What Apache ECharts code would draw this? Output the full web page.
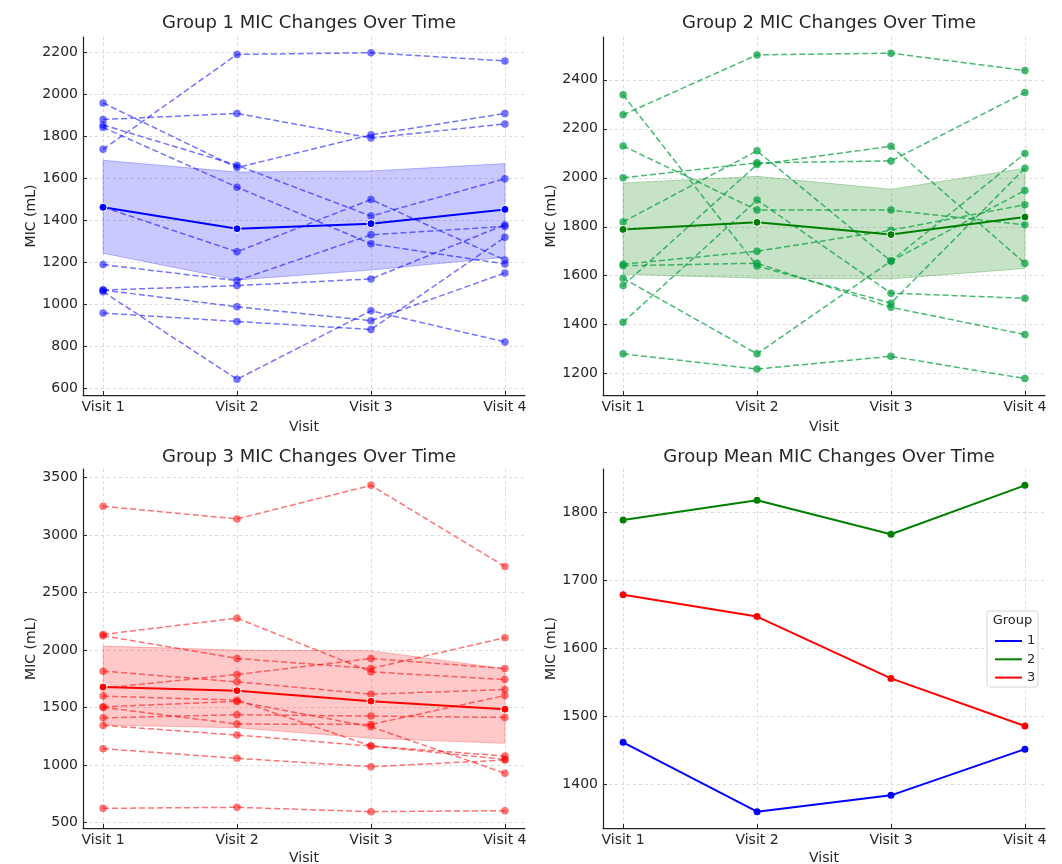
<!DOCTYPE html>
<html><head><meta charset="utf-8">
<script src="https://cdn.jsdelivr.net/npm/echarts@6/dist/echarts.min.js"></script>
<style>html,body{margin:0;padding:0;background:#fff}#c{width:1062px;height:864px}</style>
</head><body><div id="c"></div>
<script>
// ---------- data ----------
const visits = ['Visit 1', 'Visit 2', 'Visit 3', 'Visit 4'];
const visitIdx = [0, 1, 2, 3];

const group1Lines = [
  [1738, 2190, 2198, 2159],
  [1880, 1909, 1792, 1859],
  [1959, 1651, 1807, 1909],
  [1854, 1662, 1420, 1598],
  [1842, 1558, 1288, 1192],
  [1463, 1250, 1499, 1211],
  [1189, 1113, 1331, 1371],
  [1068, 1089, 1121, 1379],
  [1068, 988, 922, 1149],
  [1060, 643, 969, 821],
  [958, 918, 880, 1319]
];
const group1Mean = [1462, 1360, 1384, 1452];
const group1Upper = [1686, 1630, 1635, 1670];
const group1Lower = [1243, 1116, 1163, 1224];

const group2Lines = [
  [2257, 2502, 2509, 2438],
  [2339, 1640, 1488, 2039],
  [2130, 1868, 1868, 1808],
  [2000, 2061, 2069, 2348],
  [1820, 2110, 1660, 1948],
  [1647, 1700, 1786, 1890],
  [1641, 1651, 1471, 1360],
  [1590, 1281, 1660, 2099],
  [1560, 2054, 2129, 1651],
  [1410, 1909, 1529, 1508],
  [1281, 1219, 1271, 1180]
];
const group2Mean = [1789, 1818, 1768, 1840];
const group2Upper = [1979, 2006, 1953, 2039];
const group2Lower = [1606, 1590, 1587, 1630];

const group3Lines = [
  [3251, 3141, 3433, 2727],
  [2136, 2278, 1811, 1744],
  [2124, 1927, 1840, 2108],
  [1817, 1724, 1617, 1657],
  [1670, 1788, 1927, 1840],
  [1600, 1565, 1166, 1079],
  [1507, 1554, 1333, 929],
  [1502, 1357, 1354, 1605],
  [1411, 1438, 1426, 1415],
  [1345, 1261, 1166, 1050],
  [1143, 1059, 986, 1044],
  [624, 633, 595, 604]
];
const group3Mean = [1679, 1647, 1556, 1486];
const group3Upper = [2035, 2000, 1995, 1838];
const group3Lower = [1348, 1325, 1233, 1189];

const yTicks1 = [600, 800, 1000, 1200, 1400, 1600, 1800, 2000, 2200];
const yTicks2 = [1200, 1400, 1600, 1800, 2000, 2200, 2400];
const yTicks3 = [500, 1000, 1500, 2000, 2500, 3000, 3500];
const yTicks4 = [1400, 1500, 1600, 1700, 1800];

const groupNames = ['1', '2', '3'];
const groupColors = ['#0000ff', '#008000', '#ff0000'];
const panelTitles = [
  'Group 1 MIC Changes Over Time',
  'Group 2 MIC Changes Over Time',
  'Group 3 MIC Changes Over Time',
  'Group Mean MIC Changes Over Time'
];

// ---------- style ----------
const FONT = 'DejaVu Sans';
const TXT = '#262626';
const GRIDC = '#d4d4d4';

const panels = [
  { lines: group1Lines, mean: group1Mean, hi: group1Upper, lo: group1Lower, ticks: yTicks1,
    min: 568, max: 2273, col: '#0000ff', ind: 'rgba(0,0,255,0.55)', band: 'rgba(0,0,255,0.21)', edge: 'rgba(0,0,255,0.25)',
    grid: { left: 83, top: 37, width: 442, height: 358 }, titleTop: 9, nameGap: 25 },
  { lines: group2Lines, mean: group2Mean, hi: group2Upper, lo: group2Lower, ticks: yTicks2,
    min: 1113, max: 2575, col: '#008000', ind: 'rgba(0,160,60,0.72)', band: 'rgba(0,128,0,0.22)', edge: 'rgba(0,128,0,0.25)',
    grid: { left: 603, top: 37, width: 442, height: 358 }, titleTop: 9, nameGap: 25 },
  { lines: group3Lines, mean: group3Mean, hi: group3Upper, lo: group3Lower, ticks: yTicks3,
    min: 453, max: 3575, col: '#ff0000', ind: 'rgba(255,0,0,0.55)', band: 'rgba(255,0,0,0.21)', edge: 'rgba(255,0,0,0.25)',
    grid: { left: 83, top: 469, width: 442, height: 359 }, titleTop: 443, nameGap: 23 },
  { ticks: yTicks4, min: 1336, max: 1864, grid: { left: 603, top: 469, width: 442, height: 359 }, titleTop: 443, nameGap: 23 }
];

const grids = [], xAxes = [], yAxes = [], titles = [], series = [];

panels.forEach((p, i) => {
  grids.push(Object.assign({ outerBoundsMode: 'none', containLabel: false }, p.grid));
  xAxes.push({
    type: 'value', gridIndex: i, min: -0.15, max: 3.15,
    axisLine: { show: true, onZero: false, lineStyle: { color: TXT, width: 1.25 } },
    axisTick: { show: true, inside: true, length: 4, customValues: visitIdx, lineStyle: { color: TXT, width: 1 } },
    axisLabel: { customValues: visitIdx, formatter: v => visits[Math.round(v)], color: TXT, fontSize: 14, fontFamily: FONT, margin: 5 },
    splitLine: { show: true, lineStyle: { type: [3, 3], color: GRIDC, width: 0.8 } },
    name: 'Visit', nameLocation: 'middle', nameGap: p.nameGap,
    nameTextStyle: { color: TXT, fontSize: 14, fontFamily: FONT }
  });
  yAxes.push({
    type: 'value', gridIndex: i, min: p.min, max: p.max,
    axisLine: { show: true, onZero: false, lineStyle: { color: TXT, width: 1.25 } },
    axisTick: { show: true, inside: true, length: 4, customValues: p.ticks, lineStyle: { color: TXT, width: 1 } },
    axisLabel: { customValues: p.ticks, formatter: v => String(v), color: TXT, fontSize: 14, fontFamily: FONT, margin: 5 },
    splitLine: { show: true, lineStyle: { type: [3, 3], color: GRIDC, width: 0.8 } },
    name: 'MIC (mL)', nameLocation: 'middle', nameGap: 44, nameRotate: 90,
    nameTextStyle: { color: TXT, fontSize: 14, fontFamily: FONT }
  });
  titles.push({
    text: panelTitles[i], left: p.grid.left + p.grid.width / 2, top: p.titleTop, textAlign: 'center',
    textStyle: { color: TXT, fontSize: 18, fontWeight: 'normal', fontFamily: FONT }
  });

  if (i < 3) {
    const hi = p.hi, lo = p.lo, band = p.band, edge = p.edge;
    series.push({
      type: 'custom', xAxisIndex: i, yAxisIndex: i, silent: true, z: 1, clip: false,
      data: [[0, lo[0]]],
      renderItem: (params, api) => {
        const pts = hi.map((v, j) => api.coord([visitIdx[j], v]))
          .concat(lo.map((v, j) => api.coord([visitIdx[j], v])).reverse());
        return { type: 'polygon', shape: { points: pts }, style: { fill: band, stroke: edge, lineWidth: 1 } };
      }
    });
    p.lines.forEach(l => {
      series.push({
        type: 'line', xAxisIndex: i, yAxisIndex: i, z: 2, silent: true,
        data: l.map((v, j) => [visitIdx[j], v]),
        symbol: 'circle', symbolSize: 7.5, showSymbol: true,
        lineStyle: { type: [6, 3], width: 1.5, color: p.ind },
        itemStyle: { color: p.ind, borderWidth: 0 }
      });
    });
    series.push({
      type: 'line', xAxisIndex: i, yAxisIndex: i, z: 4, silent: true,
      data: p.mean.map((v, j) => [visitIdx[j], v]),
      symbol: 'circle', symbolSize: 8, showSymbol: true,
      lineStyle: { width: 2, color: p.col },
      itemStyle: { color: p.col, borderColor: '#fff', borderWidth: 1 }
    });
  }
});

// Group mean panel
[group1Mean, group2Mean, group3Mean].forEach((m, k) => {
  series.push({
    type: 'line', name: groupNames[k], xAxisIndex: 3, yAxisIndex: 3, z: 3, silent: true,
    data: m.map((v, j) => [visitIdx[j], v]),
    symbol: 'circle', symbolSize: 7, showSymbol: true,
    lineStyle: { width: 2, color: groupColors[k] },
    itemStyle: { color: groupColors[k], borderWidth: 0 }
  });
});

const option = {
  animation: false,
  backgroundColor: '#fff',
  textStyle: { fontFamily: FONT },
  title: titles,
  grid: grids,
  xAxis: xAxes,
  yAxis: yAxes,
  legend: {
    orient: 'vertical', left: 990, top: 629, z: 10,
    itemWidth: 27, itemHeight: 2, itemGap: 4.3,
    data: groupNames.map((n, k) => ({
      name: n, icon: 'rect',
      itemStyle: { color: groupColors[k], borderWidth: 0 }
    })),
    selectedMode: false,
    textStyle: { color: TXT, fontSize: 13, lineHeight: 14, fontFamily: FONT, padding: [0, 0, 0, 0] }
  },
  graphic: [
    { type: 'rect', z: 8, shape: { x: 987, y: 611, width: 51, height: 76, r: 3 },
      style: { fill: 'rgba(255,255,255,0.9)', stroke: '#d6d6d6', lineWidth: 1 } },
    { type: 'text', z: 9, style: { x: 1012.5, y: 621, text: 'Group', fill: TXT, fontSize: 13, fontFamily: FONT, align: 'center', verticalAlign: 'middle' } }
  ],
  series: series
};

const chart = echarts.init(document.getElementById('c'));
chart.setOption(option);
</script>
</body></html>
